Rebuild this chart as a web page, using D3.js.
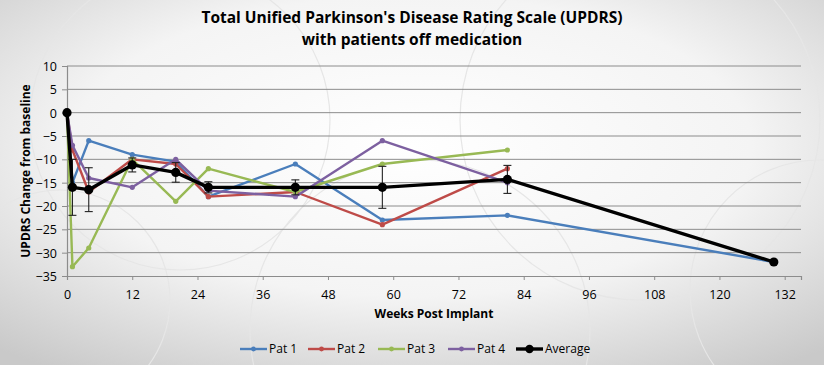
<!DOCTYPE html>
<html>
<head>
<meta charset="utf-8">
<script src="https://cdn.jsdelivr.net/npm/d3@7"></script>
<style>
  html, body { margin: 0; padding: 0; background: #fff; }
  svg { display: block; }
</style>
</head>
<body>
<svg id="chart" width="824" height="365"></svg>
<script>
// ---- data ----
const weeks = [0, 1, 4, 12, 20, 26, 42, 58, 81, 130];
const seriesNames = ["Pat 1", "Pat 2", "Pat 3", "Pat 4", "Average"];
const pat1 = [0, -15, -6, -9, -10.5, -18, -11, -23, -22, -32];
const pat2 = [0, -8, -17, -10, -11, -18, -17, -24, -12, null];
const pat3 = [0, -33, -29, -10, -19, -12, -17, -11, -8, null];
const pat4 = [0, -7, -14, -16, -10, -16.7, -18, -6, -15, null];
const average = [0, -16, -16.5, -11.2, -12.8, -16, -16, -16, -14.3, -32];
const avgError = [0, 6, 4.7, 1.5, 2.1, 1.2, 1.6, 4.5, 3, 0];
const xTicks = [0, 12, 24, 36, 48, 60, 72, 84, 96, 108, 120, 132];
const yTicks = [10, 5, 0, -5, -10, -15, -20, -25, -30, -35];
const colors = ["#4A7EBB", "#BE4B48", "#98B954", "#7D60A0", "#000000"];
const titleLines = ["Total Unified Parkinson's Disease Rating Scale (UPDRS)", "with patients off medication"];

const svg = d3.select("#chart");
const W = 824, H = 365;

// background
const defs = svg.append("defs");
const rg = defs.append("radialGradient").attr("id", "bg")
  .attr("cx", "0.5").attr("cy", "0.4").attr("r", "0.75");
rg.append("stop").attr("offset", "0").attr("stop-color", "#ffffff");
rg.append("stop").attr("offset", "0.55").attr("stop-color", "#f4f4f4");
rg.append("stop").attr("offset", "1").attr("stop-color", "#c9c9c9");
svg.append("rect").attr("width", W).attr("height", H).attr("fill", "url(#bg)");
const deco = [[180, 120, 150], [420, 330, 170], [640, 120, 180], [820, 290, 130], [60, 300, 110]];
svg.append("g").selectAll("circle").data(deco).join("circle")
  .attr("cx", d => d[0]).attr("cy", d => d[1]).attr("r", d => d[2])
  .attr("fill", "none").attr("stroke", "#e6e6e6").attr("stroke-width", 1.2);

const x = d3.scaleLinear().domain([0, 135]).range([67, 801]);
const y = d3.scaleLinear().domain([-35, 10]).range([276, 66]);

// gridlines
svg.append("g").selectAll("line").data(yTicks.filter(v => v > -35)).join("line")
  .attr("x1", x(0)).attr("x2", x(135))
  .attr("y1", d => y(d)).attr("y2", d => y(d))
  .attr("stroke", "#8c8c8c").attr("stroke-width", 1);

// axes
const yAxis = svg.append("g").attr("transform", `translate(${x(0)},0)`)
  .call(d3.axisLeft(y).tickValues(yTicks).tickSize(5).tickPadding(5).tickFormat(d3.format("d")));
const xAxis = svg.append("g").attr("transform", `translate(0,${y(-35)})`)
  .call(d3.axisBottom(x).tickValues(xTicks).tickSize(4).tickPadding(10).tickFormat(d3.format("d")));
[xAxis, yAxis].forEach(a => {
  a.select(".domain").attr("stroke", "#8c8c8c").attr("stroke-width", 1.2);
  a.selectAll(".tick line").attr("stroke", "#8c8c8c");
  a.selectAll(".tick text").attr("fill", "#000").attr("font-family", "'Open Sans', sans-serif").attr("font-size", 12.5);
});
yAxis.selectAll(".tick text").attr("dy", "0.35em");

// lines
const patData = [pat1, pat2, pat3, pat4];
const line = d3.line()
  .defined(d => d.v !== null)
  .x(d => x(d.w)).y(d => y(d.v));
const toPts = arr => weeks.map((w, i) => ({ w, v: arr[i] })).filter(d => d.v !== null);

patData.forEach((arr, k) => {
  const pts = toPts(arr);
  const g = svg.append("g");
  g.append("path").datum(pts).attr("d", line)
    .attr("fill", "none").attr("stroke", colors[k]).attr("stroke-width", 2.4)
    .attr("stroke-linejoin", "round");
  g.selectAll("circle").data(pts).join("circle")
    .attr("cx", d => x(d.w)).attr("cy", d => y(d.v)).attr("r", 2.6)
    .attr("fill", colors[k]);
});

// error bars
const errPts = weeks.map((w, i) => ({ w, v: average[i], e: avgError[i] })).filter(d => d.e > 0);
const eb = svg.append("g").attr("stroke", "#222").attr("stroke-width", 1.1);
eb.selectAll("line.v").data(errPts).join("line").attr("class", "v")
  .attr("x1", d => x(d.w)).attr("x2", d => x(d.w))
  .attr("y1", d => y(d.v + d.e)).attr("y2", d => y(d.v - d.e));
eb.selectAll("line.t").data(errPts).join("line").attr("class", "t")
  .attr("x1", d => x(d.w) - 4).attr("x2", d => x(d.w) + 4)
  .attr("y1", d => y(d.v + d.e)).attr("y2", d => y(d.v + d.e));
eb.selectAll("line.b").data(errPts).join("line").attr("class", "b")
  .attr("x1", d => x(d.w) - 4).attr("x2", d => x(d.w) + 4)
  .attr("y1", d => y(d.v - d.e)).attr("y2", d => y(d.v - d.e));

// average
const avgPts = toPts(average);
svg.append("path").datum(avgPts).attr("d", line)
  .attr("fill", "none").attr("stroke", colors[4]).attr("stroke-width", 3.4)
  .attr("stroke-linejoin", "round");
svg.append("g").selectAll("circle").data(avgPts).join("circle")
  .attr("cx", d => x(d.w)).attr("cy", d => y(d.v)).attr("r", 4.6)
  .attr("fill", "#000");

// title
svg.append("g").selectAll("text").data(titleLines).join("text")
  .attr("x", 412).attr("y", (d, i) => 23 + i * 22)
  .attr("text-anchor", "middle")
  .attr("font-family", "'Open Sans', sans-serif").attr("font-weight", "bold")
  .attr("font-size", 15.5).attr("fill", "#000")
  .text(d => d);

// axis titles
svg.append("text").attr("x", 434).attr("y", 318).attr("text-anchor", "middle")
  .attr("font-family", "'Open Sans', sans-serif").attr("font-weight", "bold")
  .attr("font-size", 12).text("Weeks Post Implant");
svg.append("text").attr("transform", `translate(30,${(66 + 276) / 2}) rotate(-90)`)
  .attr("text-anchor", "middle")
  .attr("font-family", "'Open Sans', sans-serif").attr("font-weight", "bold")
  .attr("font-size", 12).text("UPDRS Change from baseline");

// legend
const legX = [240, 308, 378, 448, 516];
const lg = svg.append("g").attr("transform", "translate(0,349)");
seriesNames.forEach((name, k) => {
  const g = lg.append("g").attr("transform", `translate(${legX[k]},0)`);
  g.append("line").attr("x1", 0).attr("x2", 27).attr("y1", 0).attr("y2", 0)
    .attr("stroke", colors[k]).attr("stroke-width", k === 4 ? 3.4 : 2.4);
  g.append("circle").attr("cx", 13.5).attr("cy", 0).attr("r", k === 4 ? 4.2 : 2.4).attr("fill", colors[k]);
  g.append("text").attr("x", 29).attr("y", 0).attr("dy", "0.35em")
    .attr("font-family", "'Open Sans', sans-serif").attr("font-size", 12).text(name);
});
</script>
</body>
</html>
